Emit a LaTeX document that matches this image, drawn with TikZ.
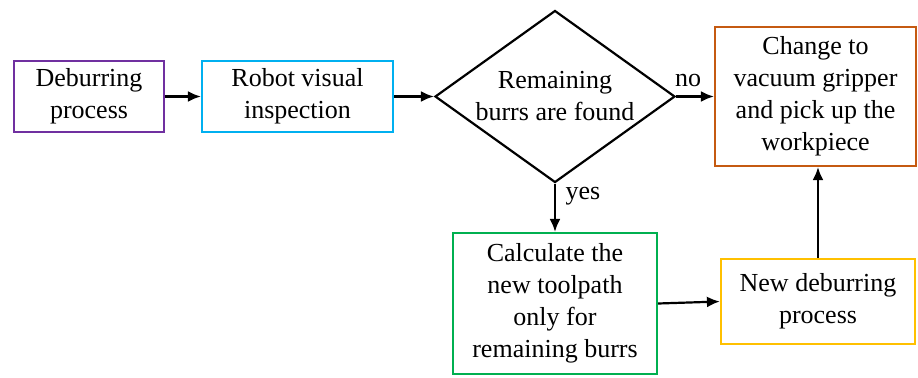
\documentclass[tikz,border=0pt]{standalone}
\usepackage{fontspec}
\setmainfont{Liberation Serif}
\usetikzlibrary{shapes.geometric,arrows.meta}
\definecolor{cpurple}{RGB}{112,48,160}
\definecolor{ccyan}{RGB}{0,176,240}
\definecolor{corange}{RGB}{197,90,17}
\definecolor{cgreen}{RGB}{0,176,80}
\definecolor{cyellow}{RGB}{255,192,0}
\begin{document}
\begin{tikzpicture}[x=0.5pt,y=-0.5pt,
  txt/.style={font=\fontsize{13}{16}\selectfont},
  box/.style={txt,draw,line width=1.1pt,align=center,inner sep=0pt},
  arr/.style={-{Latex[length=6.5pt,width=5.5pt]},line width=1.1pt}]
\useasboundingbox (0,0) rectangle (918,377);
\node[box,draw=cpurple,minimum width=75pt,minimum height=35.5pt] (b1) at (89,96.5) {Deburring\\process};
\node[box,draw=ccyan,minimum width=95.5pt,minimum height=35.5pt] (b2) at (297.5,96.5) {Robot visual\\inspection};
\node[diamond,aspect=1.4,draw,line width=1.1pt,minimum width=120pt,minimum height=86pt,inner sep=0pt,align=center,txt] (d) at (555,96.5) {Remaining\\burrs are found};
\node[box,draw=corange,minimum width=100.5pt,minimum height=69.5pt] (b3) at (815.5,96.5) {Change to\\vacuum gripper\\and pick up the\\workpiece};
\node[box,draw=cgreen,minimum width=102pt,minimum height=70.5pt] (g) at (555,303.5) {Calculate the\\new toolpath\\only for\\remaining burrs};
\node[box,draw=cyellow,minimum width=97pt,minimum height=42.5pt] (y) at (818,301.5) {New deburring\\process};
\draw[arr] (b1) -- (b2);
\draw[arr] (b2.east) -- (d.west);
\draw[arr] (d.east) -- (b3.west);
\node[txt] (no) at (688,80) {no};
\draw[arr] (d.south) -- (g.north);
\node[txt] (yes) at (583,196) {yes};
\draw[arr] (g.east) -- (y.west);
\draw[arr] (y.north) -- (y.north |- b3.south);
\end{tikzpicture}
\end{document}
